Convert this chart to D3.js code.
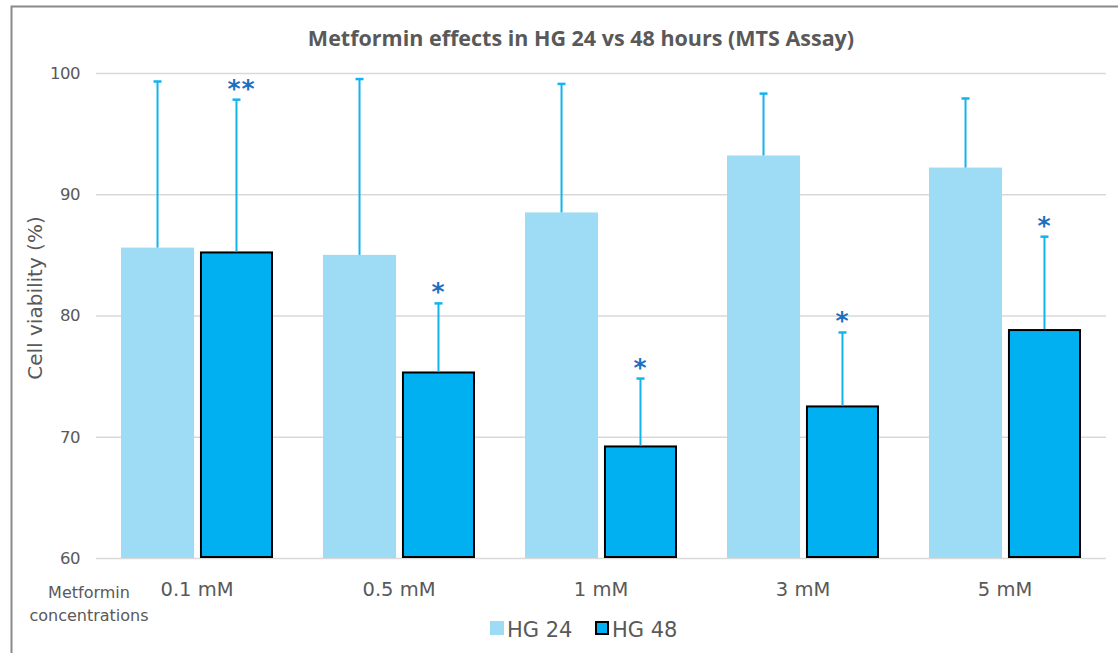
<!DOCTYPE html>
<html>
<head>
<meta charset="utf-8">
<script src="https://cdn.jsdelivr.net/npm/d3@7"></script>
<style>
  html, body { margin: 0; padding: 0; background: #fff; }
  svg { display: block; }
</style>
</head>
<body>
<svg id="chart" width="1118" height="653"></svg>
<script>
// Metformin concentrations and cell viability (%) per incubation time
const categories = ["0.1 mM", "0.5 mM", "1 mM", "3 mM", "5 mM"];
const seriesNames = ["HG 24", "HG 48"];
const hg24 = [85.6, 85.0, 88.5, 93.2, 92.2];
const hg48 = [85.2, 75.3, 69.2, 72.5, 78.8];
const hg24Err = [13.7, 14.5, 10.6, 5.1, 5.7];
const hg48Err = [12.6, 5.7, 5.6, 6.1, 7.7];
const hg48Marks = ["**", "*", "*", "*", "*"];
const yTicks = [60, 70, 80, 90, 100];

const colors = { "HG 24": "#9edcf5", "HG 48": "#00b0f0" };
const errColor = "#12b4ee";
const starColor = "#1f6fc0";
const textColor = "#595959";
const tickFont = "'DejaVu Sans', sans-serif";

const svg = d3.select("#chart");
const W = 1118, H = 653;
const plot = { left: 96, right: 1106, top: 73, bottom: 558 };

const rows = categories.map((c, i) => ({
  cat: c,
  bars: [
    { s: "HG 24", v: hg24[i], e: hg24Err[i], mark: "" },
    { s: "HG 48", v: hg48[i], e: hg48Err[i], mark: hg48Marks[i] }
  ]
}));

const x0 = d3.scaleBand().domain(categories).range([plot.left, plot.right]).paddingInner(0).paddingOuter(0);
const x1 = d3.scaleBand().domain(seriesNames).range([25, x0.bandwidth() - 25]).paddingInner(0.075);
const y = d3.scaleLinear().domain([60, 100]).range([plot.bottom, plot.top]);

// outer frame (left and top edges)
svg.append("path")
  .attr("d", `M11.5,${H} L11.5,6.5 L${W},6.5`)
  .attr("fill", "none").attr("stroke", "#8a8a8a").attr("stroke-width", 2);

// title
svg.append("text")
  .attr("x", 581).attr("y", 46)
  .attr("text-anchor", "middle")
  .attr("font-family", "'Open Sans', 'Liberation Sans', sans-serif")
  .attr("font-weight", "bold").attr("font-size", 21.5)
  .attr("fill", "#595959")
  .text("Metformin effects in HG 24 vs 48 hours (MTS Assay)");

// gridlines + y tick labels
const yAxis = d3.axisLeft(y).tickValues(yTicks).tickSize(-(plot.right - plot.left)).tickPadding(16).tickFormat(d3.format("d"));
const gy = svg.append("g").attr("transform", `translate(${plot.left},0)`).call(yAxis);
gy.select(".domain").remove();
gy.selectAll(".tick line").attr("stroke", "#d9d9d9").attr("stroke-width", 1.5);
gy.selectAll(".tick text")
  .attr("font-family", tickFont).attr("font-size", 16.5)
  .attr("fill", textColor).attr("letter-spacing", "-0.5px");

// y axis title
svg.append("text")
  .attr("transform", `translate(42,298) rotate(-90)`)
  .attr("text-anchor", "middle")
  .attr("font-family", tickFont).attr("font-size", 20)
  .attr("fill", textColor)
  .text("Cell viability (%)");

// bars
const groups = svg.append("g").selectAll("g.grp").data(rows).join("g")
  .attr("class", "grp")
  .attr("transform", d => `translate(${x0(d.cat)},0)`);

groups.selectAll("rect").data(d => d.bars).join("rect")
  .attr("x", d => x1(d.s) + (d.s === "HG 48" ? 1 : 0))
  .attr("y", d => y(d.v))
  .attr("width", d => x1.bandwidth() - (d.s === "HG 48" ? 2 : 0))
  .attr("height", d => y(60) - y(d.v) - (d.s === "HG 48" ? 1 : 0))
  .attr("fill", d => colors[d.s])
  .attr("stroke", d => d.s === "HG 48" ? "#000" : "none")
  .attr("stroke-width", 2);

// positive error bars
const err = groups.selectAll("g.err").data(d => d.bars).join("g").attr("class", "err");
err.append("line")
  .attr("x1", d => x1(d.s) + x1.bandwidth() / 2)
  .attr("x2", d => x1(d.s) + x1.bandwidth() / 2)
  .attr("y1", d => y(d.v) - (d.s === "HG 48" ? 1 : 0))
  .attr("y2", d => y(d.v + d.e))
  .attr("stroke", errColor).attr("stroke-width", 2);
err.append("line")
  .attr("x1", d => x1(d.s) + x1.bandwidth() / 2 - 4)
  .attr("x2", d => x1(d.s) + x1.bandwidth() / 2 + 4)
  .attr("y1", d => y(d.v + d.e))
  .attr("y2", d => y(d.v + d.e))
  .attr("stroke", errColor).attr("stroke-width", 2.5);

// significance marks
err.filter(d => d.mark).append("text")
  .attr("x", d => x1(d.s) + x1.bandwidth() / 2 + (d.mark.length > 1 ? 5 : 0))
  .attr("y", d => y(d.v + d.e) - 3)
  .attr("text-anchor", "middle")
  .attr("font-family", "'DejaVu Sans', sans-serif").attr("font-weight", "bold")
  .attr("font-size", 25).attr("letter-spacing", "1px")
  .attr("fill", starColor)
  .text(d => d.mark);

// category labels
const xAxis = d3.axisBottom(x0).tickSize(0).tickPadding(24);
const gx = svg.append("g").attr("transform", `translate(0,${plot.bottom})`).call(xAxis);
gx.select(".domain").remove();
gx.selectAll(".tick text")
  .attr("font-family", tickFont).attr("font-size", 19.5)
  .attr("fill", textColor);

// axis caption under the tick labels
const cap = svg.append("text")
  .attr("text-anchor", "middle")
  .attr("font-family", tickFont).attr("font-size", 16)
  .attr("fill", textColor);
cap.append("tspan").attr("x", 89).attr("y", 598).text("Metformin");
cap.append("tspan").attr("x", 89).attr("y", 621).text("concentrations");

// legend
const legend = svg.append("g").attr("transform", "translate(490,621)");
const items = legend.selectAll("g").data(seriesNames).join("g")
  .attr("transform", (d, i) => `translate(${i * 105},0)`);
items.append("rect")
  .attr("x", d => d === "HG 48" ? 1 : 0).attr("y", d => d === "HG 48" ? 1 : 0)
  .attr("width", d => d === "HG 48" ? 12 : 14)
  .attr("height", d => d === "HG 48" ? 12 : 14)
  .attr("fill", d => colors[d])
  .attr("stroke", d => d === "HG 48" ? "#000" : "none").attr("stroke-width", 2);
items.append("text")
  .attr("x", 17).attr("y", 16)
  .attr("font-family", tickFont).attr("font-size", 21)
  .attr("fill", textColor)
  .text(d => d);
</script>
</body>
</html>
